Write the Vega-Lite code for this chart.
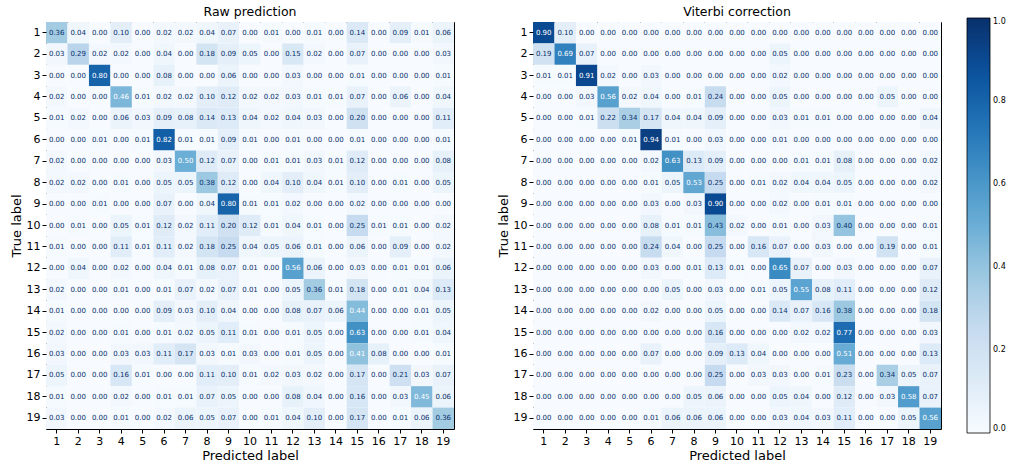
{
"$schema":"https://vega.github.io/schema/vega-lite/v6.json",
"padding":{"left":9,"top":5,"right":0,"bottom":0},
"config":{
"font":"DejaVu Sans",
"view":{"stroke":"#000","strokeWidth":1},
"axis":{"domain":false,"grid":false,"tickColor":"#000","tickSize":4,"labelColor":"#000","labelFontSize":11,"labelFont":"DejaVu Sans","titleFont":"DejaVu Sans","titleFontSize":13,"titleFontWeight":"normal","titleColor":"#000","labelPadding":2,"titlePadding":3},
"title":{"font":"DejaVu Sans","fontSize":12.5,"fontWeight":"normal","color":"#000","offset":4},
"legend":{"labelFont":"DejaVu Sans"}
},
"datasets":{
"raw":[
{"t":1,"p":1,"v":0.36},{"t":1,"p":2,"v":0.04},{"t":1,"p":3,"v":0},{"t":1,"p":4,"v":0.10},{"t":1,"p":5,"v":0},{"t":1,"p":6,"v":0.02},{"t":1,"p":7,"v":0.02},{"t":1,"p":8,"v":0.04},{"t":1,"p":9,"v":0.07},{"t":1,"p":10,"v":0},{"t":1,"p":11,"v":0.01},{"t":1,"p":12,"v":0},{"t":1,"p":13,"v":0.01},{"t":1,"p":14,"v":0},{"t":1,"p":15,"v":0.14},{"t":1,"p":16,"v":0},{"t":1,"p":17,"v":0.09},{"t":1,"p":18,"v":0.01},{"t":1,"p":19,"v":0.06},
{"t":2,"p":1,"v":0.03},{"t":2,"p":2,"v":0.29},{"t":2,"p":3,"v":0.02},{"t":2,"p":4,"v":0.02},{"t":2,"p":5,"v":0},{"t":2,"p":6,"v":0.04},{"t":2,"p":7,"v":0},{"t":2,"p":8,"v":0.18},{"t":2,"p":9,"v":0.09},{"t":2,"p":10,"v":0.05},{"t":2,"p":11,"v":0},{"t":2,"p":12,"v":0.15},{"t":2,"p":13,"v":0.02},{"t":2,"p":14,"v":0},{"t":2,"p":15,"v":0.07},{"t":2,"p":16,"v":0},{"t":2,"p":17,"v":0},{"t":2,"p":18,"v":0},{"t":2,"p":19,"v":0.03},
{"t":3,"p":1,"v":0},{"t":3,"p":2,"v":0},{"t":3,"p":3,"v":0.80},{"t":3,"p":4,"v":0},{"t":3,"p":5,"v":0},{"t":3,"p":6,"v":0.08},{"t":3,"p":7,"v":0},{"t":3,"p":8,"v":0},{"t":3,"p":9,"v":0.06},{"t":3,"p":10,"v":0},{"t":3,"p":11,"v":0},{"t":3,"p":12,"v":0.03},{"t":3,"p":13,"v":0},{"t":3,"p":14,"v":0},{"t":3,"p":15,"v":0.01},{"t":3,"p":16,"v":0},{"t":3,"p":17,"v":0},{"t":3,"p":18,"v":0},{"t":3,"p":19,"v":0.01},
{"t":4,"p":1,"v":0.02},{"t":4,"p":2,"v":0},{"t":4,"p":3,"v":0},{"t":4,"p":4,"v":0.46},{"t":4,"p":5,"v":0.01},{"t":4,"p":6,"v":0.02},{"t":4,"p":7,"v":0.02},{"t":4,"p":8,"v":0.10},{"t":4,"p":9,"v":0.12},{"t":4,"p":10,"v":0.02},{"t":4,"p":11,"v":0.02},{"t":4,"p":12,"v":0.03},{"t":4,"p":13,"v":0.01},{"t":4,"p":14,"v":0.01},{"t":4,"p":15,"v":0.07},{"t":4,"p":16,"v":0},{"t":4,"p":17,"v":0.06},{"t":4,"p":18,"v":0},{"t":4,"p":19,"v":0.04},
{"t":5,"p":1,"v":0.01},{"t":5,"p":2,"v":0.02},{"t":5,"p":3,"v":0},{"t":5,"p":4,"v":0.06},{"t":5,"p":5,"v":0.03},{"t":5,"p":6,"v":0.09},{"t":5,"p":7,"v":0.08},{"t":5,"p":8,"v":0.14},{"t":5,"p":9,"v":0.13},{"t":5,"p":10,"v":0.04},{"t":5,"p":11,"v":0.02},{"t":5,"p":12,"v":0.04},{"t":5,"p":13,"v":0.03},{"t":5,"p":14,"v":0},{"t":5,"p":15,"v":0.20},{"t":5,"p":16,"v":0},{"t":5,"p":17,"v":0},{"t":5,"p":18,"v":0},{"t":5,"p":19,"v":0.11},
{"t":6,"p":1,"v":0},{"t":6,"p":2,"v":0},{"t":6,"p":3,"v":0.01},{"t":6,"p":4,"v":0},{"t":6,"p":5,"v":0.01},{"t":6,"p":6,"v":0.82},{"t":6,"p":7,"v":0.01},{"t":6,"p":8,"v":0.01},{"t":6,"p":9,"v":0.09},{"t":6,"p":10,"v":0.01},{"t":6,"p":11,"v":0},{"t":6,"p":12,"v":0.01},{"t":6,"p":13,"v":0},{"t":6,"p":14,"v":0},{"t":6,"p":15,"v":0.01},{"t":6,"p":16,"v":0},{"t":6,"p":17,"v":0},{"t":6,"p":18,"v":0},{"t":6,"p":19,"v":0.01},
{"t":7,"p":1,"v":0.02},{"t":7,"p":2,"v":0},{"t":7,"p":3,"v":0},{"t":7,"p":4,"v":0},{"t":7,"p":5,"v":0},{"t":7,"p":6,"v":0.03},{"t":7,"p":7,"v":0.50},{"t":7,"p":8,"v":0.12},{"t":7,"p":9,"v":0.07},{"t":7,"p":10,"v":0},{"t":7,"p":11,"v":0.01},{"t":7,"p":12,"v":0.01},{"t":7,"p":13,"v":0.03},{"t":7,"p":14,"v":0.01},{"t":7,"p":15,"v":0.12},{"t":7,"p":16,"v":0},{"t":7,"p":17,"v":0},{"t":7,"p":18,"v":0},{"t":7,"p":19,"v":0.08},
{"t":8,"p":1,"v":0.02},{"t":8,"p":2,"v":0.02},{"t":8,"p":3,"v":0},{"t":8,"p":4,"v":0.01},{"t":8,"p":5,"v":0},{"t":8,"p":6,"v":0.05},{"t":8,"p":7,"v":0.05},{"t":8,"p":8,"v":0.38},{"t":8,"p":9,"v":0.12},{"t":8,"p":10,"v":0},{"t":8,"p":11,"v":0.04},{"t":8,"p":12,"v":0.10},{"t":8,"p":13,"v":0.04},{"t":8,"p":14,"v":0.01},{"t":8,"p":15,"v":0.10},{"t":8,"p":16,"v":0},{"t":8,"p":17,"v":0.01},{"t":8,"p":18,"v":0},{"t":8,"p":19,"v":0.05},
{"t":9,"p":1,"v":0},{"t":9,"p":2,"v":0},{"t":9,"p":3,"v":0.01},{"t":9,"p":4,"v":0},{"t":9,"p":5,"v":0},{"t":9,"p":6,"v":0.07},{"t":9,"p":7,"v":0},{"t":9,"p":8,"v":0.04},{"t":9,"p":9,"v":0.80},{"t":9,"p":10,"v":0.01},{"t":9,"p":11,"v":0.01},{"t":9,"p":12,"v":0.02},{"t":9,"p":13,"v":0},{"t":9,"p":14,"v":0},{"t":9,"p":15,"v":0.02},{"t":9,"p":16,"v":0},{"t":9,"p":17,"v":0},{"t":9,"p":18,"v":0},{"t":9,"p":19,"v":0},
{"t":10,"p":1,"v":0},{"t":10,"p":2,"v":0.01},{"t":10,"p":3,"v":0},{"t":10,"p":4,"v":0.05},{"t":10,"p":5,"v":0.01},{"t":10,"p":6,"v":0.12},{"t":10,"p":7,"v":0.02},{"t":10,"p":8,"v":0.11},{"t":10,"p":9,"v":0.20},{"t":10,"p":10,"v":0.12},{"t":10,"p":11,"v":0.01},{"t":10,"p":12,"v":0.04},{"t":10,"p":13,"v":0.01},{"t":10,"p":14,"v":0},{"t":10,"p":15,"v":0.25},{"t":10,"p":16,"v":0.01},{"t":10,"p":17,"v":0.01},{"t":10,"p":18,"v":0},{"t":10,"p":19,"v":0.02},
{"t":11,"p":1,"v":0.01},{"t":11,"p":2,"v":0},{"t":11,"p":3,"v":0},{"t":11,"p":4,"v":0.11},{"t":11,"p":5,"v":0.01},{"t":11,"p":6,"v":0.11},{"t":11,"p":7,"v":0.02},{"t":11,"p":8,"v":0.18},{"t":11,"p":9,"v":0.25},{"t":11,"p":10,"v":0.04},{"t":11,"p":11,"v":0.05},{"t":11,"p":12,"v":0.06},{"t":11,"p":13,"v":0.01},{"t":11,"p":14,"v":0},{"t":11,"p":15,"v":0.06},{"t":11,"p":16,"v":0},{"t":11,"p":17,"v":0.09},{"t":11,"p":18,"v":0},{"t":11,"p":19,"v":0.02},
{"t":12,"p":1,"v":0},{"t":12,"p":2,"v":0.04},{"t":12,"p":3,"v":0},{"t":12,"p":4,"v":0.02},{"t":12,"p":5,"v":0},{"t":12,"p":6,"v":0.04},{"t":12,"p":7,"v":0.01},{"t":12,"p":8,"v":0.08},{"t":12,"p":9,"v":0.07},{"t":12,"p":10,"v":0.01},{"t":12,"p":11,"v":0},{"t":12,"p":12,"v":0.56},{"t":12,"p":13,"v":0.06},{"t":12,"p":14,"v":0},{"t":12,"p":15,"v":0.03},{"t":12,"p":16,"v":0},{"t":12,"p":17,"v":0.01},{"t":12,"p":18,"v":0.01},{"t":12,"p":19,"v":0.06},
{"t":13,"p":1,"v":0.02},{"t":13,"p":2,"v":0},{"t":13,"p":3,"v":0},{"t":13,"p":4,"v":0.01},{"t":13,"p":5,"v":0},{"t":13,"p":6,"v":0.01},{"t":13,"p":7,"v":0.07},{"t":13,"p":8,"v":0.02},{"t":13,"p":9,"v":0.07},{"t":13,"p":10,"v":0.01},{"t":13,"p":11,"v":0},{"t":13,"p":12,"v":0.05},{"t":13,"p":13,"v":0.36},{"t":13,"p":14,"v":0.01},{"t":13,"p":15,"v":0.18},{"t":13,"p":16,"v":0},{"t":13,"p":17,"v":0.01},{"t":13,"p":18,"v":0.04},{"t":13,"p":19,"v":0.13},
{"t":14,"p":1,"v":0.01},{"t":14,"p":2,"v":0},{"t":14,"p":3,"v":0},{"t":14,"p":4,"v":0},{"t":14,"p":5,"v":0},{"t":14,"p":6,"v":0.09},{"t":14,"p":7,"v":0.03},{"t":14,"p":8,"v":0.10},{"t":14,"p":9,"v":0.04},{"t":14,"p":10,"v":0},{"t":14,"p":11,"v":0},{"t":14,"p":12,"v":0.08},{"t":14,"p":13,"v":0.07},{"t":14,"p":14,"v":0.06},{"t":14,"p":15,"v":0.44},{"t":14,"p":16,"v":0},{"t":14,"p":17,"v":0},{"t":14,"p":18,"v":0.01},{"t":14,"p":19,"v":0.05},
{"t":15,"p":1,"v":0.02},{"t":15,"p":2,"v":0},{"t":15,"p":3,"v":0},{"t":15,"p":4,"v":0.01},{"t":15,"p":5,"v":0},{"t":15,"p":6,"v":0.01},{"t":15,"p":7,"v":0.02},{"t":15,"p":8,"v":0.05},{"t":15,"p":9,"v":0.11},{"t":15,"p":10,"v":0.01},{"t":15,"p":11,"v":0},{"t":15,"p":12,"v":0.01},{"t":15,"p":13,"v":0.05},{"t":15,"p":14,"v":0},{"t":15,"p":15,"v":0.63},{"t":15,"p":16,"v":0},{"t":15,"p":17,"v":0},{"t":15,"p":18,"v":0.01},{"t":15,"p":19,"v":0.04},
{"t":16,"p":1,"v":0.03},{"t":16,"p":2,"v":0},{"t":16,"p":3,"v":0},{"t":16,"p":4,"v":0.03},{"t":16,"p":5,"v":0.03},{"t":16,"p":6,"v":0.11},{"t":16,"p":7,"v":0.17},{"t":16,"p":8,"v":0.03},{"t":16,"p":9,"v":0.01},{"t":16,"p":10,"v":0.03},{"t":16,"p":11,"v":0},{"t":16,"p":12,"v":0.01},{"t":16,"p":13,"v":0.05},{"t":16,"p":14,"v":0},{"t":16,"p":15,"v":0.41},{"t":16,"p":16,"v":0.08},{"t":16,"p":17,"v":0},{"t":16,"p":18,"v":0},{"t":16,"p":19,"v":0.01},
{"t":17,"p":1,"v":0.05},{"t":17,"p":2,"v":0},{"t":17,"p":3,"v":0},{"t":17,"p":4,"v":0.16},{"t":17,"p":5,"v":0.01},{"t":17,"p":6,"v":0},{"t":17,"p":7,"v":0},{"t":17,"p":8,"v":0.11},{"t":17,"p":9,"v":0.10},{"t":17,"p":10,"v":0.01},{"t":17,"p":11,"v":0.02},{"t":17,"p":12,"v":0.03},{"t":17,"p":13,"v":0.02},{"t":17,"p":14,"v":0},{"t":17,"p":15,"v":0.17},{"t":17,"p":16,"v":0},{"t":17,"p":17,"v":0.21},{"t":17,"p":18,"v":0.03},{"t":17,"p":19,"v":0.07},
{"t":18,"p":1,"v":0.01},{"t":18,"p":2,"v":0},{"t":18,"p":3,"v":0},{"t":18,"p":4,"v":0.02},{"t":18,"p":5,"v":0},{"t":18,"p":6,"v":0.01},{"t":18,"p":7,"v":0.01},{"t":18,"p":8,"v":0.07},{"t":18,"p":9,"v":0.05},{"t":18,"p":10,"v":0},{"t":18,"p":11,"v":0},{"t":18,"p":12,"v":0.08},{"t":18,"p":13,"v":0.04},{"t":18,"p":14,"v":0},{"t":18,"p":15,"v":0.16},{"t":18,"p":16,"v":0},{"t":18,"p":17,"v":0.03},{"t":18,"p":18,"v":0.45},{"t":18,"p":19,"v":0.06},
{"t":19,"p":1,"v":0.03},{"t":19,"p":2,"v":0},{"t":19,"p":3,"v":0},{"t":19,"p":4,"v":0.01},{"t":19,"p":5,"v":0},{"t":19,"p":6,"v":0.02},{"t":19,"p":7,"v":0.06},{"t":19,"p":8,"v":0.05},{"t":19,"p":9,"v":0.07},{"t":19,"p":10,"v":0},{"t":19,"p":11,"v":0.01},{"t":19,"p":12,"v":0.04},{"t":19,"p":13,"v":0.10},{"t":19,"p":14,"v":0},{"t":19,"p":15,"v":0.17},{"t":19,"p":16,"v":0},{"t":19,"p":17,"v":0.01},{"t":19,"p":18,"v":0.06},{"t":19,"p":19,"v":0.36}
],
"vit":[
{"t":1,"p":1,"v":0.90},{"t":1,"p":2,"v":0.10},{"t":1,"p":3,"v":0},{"t":1,"p":4,"v":0},{"t":1,"p":5,"v":0},{"t":1,"p":6,"v":0},{"t":1,"p":7,"v":0},{"t":1,"p":8,"v":0},{"t":1,"p":9,"v":0},{"t":1,"p":10,"v":0},{"t":1,"p":11,"v":0},{"t":1,"p":12,"v":0},{"t":1,"p":13,"v":0},{"t":1,"p":14,"v":0},{"t":1,"p":15,"v":0},{"t":1,"p":16,"v":0},{"t":1,"p":17,"v":0},{"t":1,"p":18,"v":0},{"t":1,"p":19,"v":0},
{"t":2,"p":1,"v":0.19},{"t":2,"p":2,"v":0.69},{"t":2,"p":3,"v":0.07},{"t":2,"p":4,"v":0},{"t":2,"p":5,"v":0},{"t":2,"p":6,"v":0},{"t":2,"p":7,"v":0},{"t":2,"p":8,"v":0},{"t":2,"p":9,"v":0},{"t":2,"p":10,"v":0},{"t":2,"p":11,"v":0},{"t":2,"p":12,"v":0.05},{"t":2,"p":13,"v":0},{"t":2,"p":14,"v":0},{"t":2,"p":15,"v":0},{"t":2,"p":16,"v":0},{"t":2,"p":17,"v":0},{"t":2,"p":18,"v":0},{"t":2,"p":19,"v":0},
{"t":3,"p":1,"v":0.01},{"t":3,"p":2,"v":0.01},{"t":3,"p":3,"v":0.91},{"t":3,"p":4,"v":0.02},{"t":3,"p":5,"v":0},{"t":3,"p":6,"v":0.03},{"t":3,"p":7,"v":0},{"t":3,"p":8,"v":0},{"t":3,"p":9,"v":0},{"t":3,"p":10,"v":0},{"t":3,"p":11,"v":0},{"t":3,"p":12,"v":0.02},{"t":3,"p":13,"v":0},{"t":3,"p":14,"v":0},{"t":3,"p":15,"v":0},{"t":3,"p":16,"v":0},{"t":3,"p":17,"v":0},{"t":3,"p":18,"v":0},{"t":3,"p":19,"v":0},
{"t":4,"p":1,"v":0},{"t":4,"p":2,"v":0},{"t":4,"p":3,"v":0.03},{"t":4,"p":4,"v":0.56},{"t":4,"p":5,"v":0.02},{"t":4,"p":6,"v":0.04},{"t":4,"p":7,"v":0},{"t":4,"p":8,"v":0.01},{"t":4,"p":9,"v":0.24},{"t":4,"p":10,"v":0},{"t":4,"p":11,"v":0},{"t":4,"p":12,"v":0.05},{"t":4,"p":13,"v":0},{"t":4,"p":14,"v":0},{"t":4,"p":15,"v":0},{"t":4,"p":16,"v":0},{"t":4,"p":17,"v":0.05},{"t":4,"p":18,"v":0},{"t":4,"p":19,"v":0},
{"t":5,"p":1,"v":0},{"t":5,"p":2,"v":0},{"t":5,"p":3,"v":0.01},{"t":5,"p":4,"v":0.22},{"t":5,"p":5,"v":0.34},{"t":5,"p":6,"v":0.17},{"t":5,"p":7,"v":0.04},{"t":5,"p":8,"v":0.04},{"t":5,"p":9,"v":0.09},{"t":5,"p":10,"v":0},{"t":5,"p":11,"v":0},{"t":5,"p":12,"v":0.03},{"t":5,"p":13,"v":0.01},{"t":5,"p":14,"v":0.01},{"t":5,"p":15,"v":0},{"t":5,"p":16,"v":0},{"t":5,"p":17,"v":0},{"t":5,"p":18,"v":0},{"t":5,"p":19,"v":0.04},
{"t":6,"p":1,"v":0},{"t":6,"p":2,"v":0},{"t":6,"p":3,"v":0},{"t":6,"p":4,"v":0},{"t":6,"p":5,"v":0.01},{"t":6,"p":6,"v":0.94},{"t":6,"p":7,"v":0.01},{"t":6,"p":8,"v":0},{"t":6,"p":9,"v":0.03},{"t":6,"p":10,"v":0},{"t":6,"p":11,"v":0},{"t":6,"p":12,"v":0.01},{"t":6,"p":13,"v":0},{"t":6,"p":14,"v":0},{"t":6,"p":15,"v":0},{"t":6,"p":16,"v":0},{"t":6,"p":17,"v":0},{"t":6,"p":18,"v":0},{"t":6,"p":19,"v":0},
{"t":7,"p":1,"v":0},{"t":7,"p":2,"v":0},{"t":7,"p":3,"v":0},{"t":7,"p":4,"v":0},{"t":7,"p":5,"v":0},{"t":7,"p":6,"v":0.02},{"t":7,"p":7,"v":0.63},{"t":7,"p":8,"v":0.13},{"t":7,"p":9,"v":0.09},{"t":7,"p":10,"v":0},{"t":7,"p":11,"v":0},{"t":7,"p":12,"v":0},{"t":7,"p":13,"v":0.01},{"t":7,"p":14,"v":0.01},{"t":7,"p":15,"v":0.08},{"t":7,"p":16,"v":0},{"t":7,"p":17,"v":0},{"t":7,"p":18,"v":0},{"t":7,"p":19,"v":0.02},
{"t":8,"p":1,"v":0},{"t":8,"p":2,"v":0},{"t":8,"p":3,"v":0},{"t":8,"p":4,"v":0},{"t":8,"p":5,"v":0},{"t":8,"p":6,"v":0.01},{"t":8,"p":7,"v":0.05},{"t":8,"p":8,"v":0.53},{"t":8,"p":9,"v":0.25},{"t":8,"p":10,"v":0},{"t":8,"p":11,"v":0.01},{"t":8,"p":12,"v":0.02},{"t":8,"p":13,"v":0.04},{"t":8,"p":14,"v":0.04},{"t":8,"p":15,"v":0.05},{"t":8,"p":16,"v":0},{"t":8,"p":17,"v":0},{"t":8,"p":18,"v":0},{"t":8,"p":19,"v":0.02},
{"t":9,"p":1,"v":0},{"t":9,"p":2,"v":0},{"t":9,"p":3,"v":0},{"t":9,"p":4,"v":0},{"t":9,"p":5,"v":0},{"t":9,"p":6,"v":0.03},{"t":9,"p":7,"v":0},{"t":9,"p":8,"v":0.03},{"t":9,"p":9,"v":0.90},{"t":9,"p":10,"v":0},{"t":9,"p":11,"v":0},{"t":9,"p":12,"v":0.02},{"t":9,"p":13,"v":0},{"t":9,"p":14,"v":0.01},{"t":9,"p":15,"v":0.01},{"t":9,"p":16,"v":0},{"t":9,"p":17,"v":0},{"t":9,"p":18,"v":0},{"t":9,"p":19,"v":0},
{"t":10,"p":1,"v":0},{"t":10,"p":2,"v":0},{"t":10,"p":3,"v":0},{"t":10,"p":4,"v":0},{"t":10,"p":5,"v":0},{"t":10,"p":6,"v":0.08},{"t":10,"p":7,"v":0.01},{"t":10,"p":8,"v":0.01},{"t":10,"p":9,"v":0.43},{"t":10,"p":10,"v":0.02},{"t":10,"p":11,"v":0},{"t":10,"p":12,"v":0.01},{"t":10,"p":13,"v":0},{"t":10,"p":14,"v":0.03},{"t":10,"p":15,"v":0.40},{"t":10,"p":16,"v":0},{"t":10,"p":17,"v":0},{"t":10,"p":18,"v":0},{"t":10,"p":19,"v":0.01},
{"t":11,"p":1,"v":0},{"t":11,"p":2,"v":0},{"t":11,"p":3,"v":0},{"t":11,"p":4,"v":0},{"t":11,"p":5,"v":0},{"t":11,"p":6,"v":0.24},{"t":11,"p":7,"v":0.04},{"t":11,"p":8,"v":0},{"t":11,"p":9,"v":0.25},{"t":11,"p":10,"v":0},{"t":11,"p":11,"v":0.16},{"t":11,"p":12,"v":0.07},{"t":11,"p":13,"v":0},{"t":11,"p":14,"v":0.03},{"t":11,"p":15,"v":0},{"t":11,"p":16,"v":0},{"t":11,"p":17,"v":0.19},{"t":11,"p":18,"v":0},{"t":11,"p":19,"v":0.01},
{"t":12,"p":1,"v":0},{"t":12,"p":2,"v":0},{"t":12,"p":3,"v":0},{"t":12,"p":4,"v":0},{"t":12,"p":5,"v":0},{"t":12,"p":6,"v":0.03},{"t":12,"p":7,"v":0},{"t":12,"p":8,"v":0.01},{"t":12,"p":9,"v":0.13},{"t":12,"p":10,"v":0.01},{"t":12,"p":11,"v":0},{"t":12,"p":12,"v":0.65},{"t":12,"p":13,"v":0.07},{"t":12,"p":14,"v":0},{"t":12,"p":15,"v":0.03},{"t":12,"p":16,"v":0},{"t":12,"p":17,"v":0},{"t":12,"p":18,"v":0},{"t":12,"p":19,"v":0.07},
{"t":13,"p":1,"v":0},{"t":13,"p":2,"v":0},{"t":13,"p":3,"v":0},{"t":13,"p":4,"v":0},{"t":13,"p":5,"v":0},{"t":13,"p":6,"v":0},{"t":13,"p":7,"v":0.05},{"t":13,"p":8,"v":0},{"t":13,"p":9,"v":0.03},{"t":13,"p":10,"v":0},{"t":13,"p":11,"v":0.01},{"t":13,"p":12,"v":0.05},{"t":13,"p":13,"v":0.55},{"t":13,"p":14,"v":0.08},{"t":13,"p":15,"v":0.11},{"t":13,"p":16,"v":0},{"t":13,"p":17,"v":0},{"t":13,"p":18,"v":0},{"t":13,"p":19,"v":0.12},
{"t":14,"p":1,"v":0},{"t":14,"p":2,"v":0},{"t":14,"p":3,"v":0},{"t":14,"p":4,"v":0},{"t":14,"p":5,"v":0},{"t":14,"p":6,"v":0.02},{"t":14,"p":7,"v":0},{"t":14,"p":8,"v":0},{"t":14,"p":9,"v":0.05},{"t":14,"p":10,"v":0},{"t":14,"p":11,"v":0},{"t":14,"p":12,"v":0.14},{"t":14,"p":13,"v":0.07},{"t":14,"p":14,"v":0.16},{"t":14,"p":15,"v":0.38},{"t":14,"p":16,"v":0},{"t":14,"p":17,"v":0},{"t":14,"p":18,"v":0},{"t":14,"p":19,"v":0.18},
{"t":15,"p":1,"v":0},{"t":15,"p":2,"v":0},{"t":15,"p":3,"v":0},{"t":15,"p":4,"v":0},{"t":15,"p":5,"v":0},{"t":15,"p":6,"v":0},{"t":15,"p":7,"v":0},{"t":15,"p":8,"v":0},{"t":15,"p":9,"v":0.16},{"t":15,"p":10,"v":0},{"t":15,"p":11,"v":0},{"t":15,"p":12,"v":0},{"t":15,"p":13,"v":0.02},{"t":15,"p":14,"v":0.02},{"t":15,"p":15,"v":0.77},{"t":15,"p":16,"v":0},{"t":15,"p":17,"v":0},{"t":15,"p":18,"v":0},{"t":15,"p":19,"v":0.03},
{"t":16,"p":1,"v":0},{"t":16,"p":2,"v":0},{"t":16,"p":3,"v":0},{"t":16,"p":4,"v":0},{"t":16,"p":5,"v":0},{"t":16,"p":6,"v":0.07},{"t":16,"p":7,"v":0},{"t":16,"p":8,"v":0},{"t":16,"p":9,"v":0.09},{"t":16,"p":10,"v":0.13},{"t":16,"p":11,"v":0.04},{"t":16,"p":12,"v":0},{"t":16,"p":13,"v":0},{"t":16,"p":14,"v":0},{"t":16,"p":15,"v":0.51},{"t":16,"p":16,"v":0},{"t":16,"p":17,"v":0},{"t":16,"p":18,"v":0},{"t":16,"p":19,"v":0.13},
{"t":17,"p":1,"v":0},{"t":17,"p":2,"v":0},{"t":17,"p":3,"v":0},{"t":17,"p":4,"v":0},{"t":17,"p":5,"v":0},{"t":17,"p":6,"v":0},{"t":17,"p":7,"v":0},{"t":17,"p":8,"v":0},{"t":17,"p":9,"v":0.25},{"t":17,"p":10,"v":0},{"t":17,"p":11,"v":0.03},{"t":17,"p":12,"v":0.03},{"t":17,"p":13,"v":0},{"t":17,"p":14,"v":0.01},{"t":17,"p":15,"v":0.23},{"t":17,"p":16,"v":0},{"t":17,"p":17,"v":0.34},{"t":17,"p":18,"v":0.05},{"t":17,"p":19,"v":0.07},
{"t":18,"p":1,"v":0},{"t":18,"p":2,"v":0},{"t":18,"p":3,"v":0},{"t":18,"p":4,"v":0},{"t":18,"p":5,"v":0},{"t":18,"p":6,"v":0},{"t":18,"p":7,"v":0},{"t":18,"p":8,"v":0.05},{"t":18,"p":9,"v":0.06},{"t":18,"p":10,"v":0},{"t":18,"p":11,"v":0},{"t":18,"p":12,"v":0.05},{"t":18,"p":13,"v":0.04},{"t":18,"p":14,"v":0},{"t":18,"p":15,"v":0.12},{"t":18,"p":16,"v":0},{"t":18,"p":17,"v":0.03},{"t":18,"p":18,"v":0.58},{"t":18,"p":19,"v":0.07},
{"t":19,"p":1,"v":0},{"t":19,"p":2,"v":0},{"t":19,"p":3,"v":0},{"t":19,"p":4,"v":0},{"t":19,"p":5,"v":0},{"t":19,"p":6,"v":0.01},{"t":19,"p":7,"v":0.06},{"t":19,"p":8,"v":0.06},{"t":19,"p":9,"v":0.06},{"t":19,"p":10,"v":0},{"t":19,"p":11,"v":0},{"t":19,"p":12,"v":0.03},{"t":19,"p":13,"v":0.04},{"t":19,"p":14,"v":0.03},{"t":19,"p":15,"v":0.11},{"t":19,"p":16,"v":0},{"t":19,"p":17,"v":0},{"t":19,"p":18,"v":0.05},{"t":19,"p":19,"v":0.56}
]
},
"spacing":41,
"resolve":{"scale":{"color":"shared"}},
"hconcat":[
{
"data":{"name":"raw"},
"width":408,"height":407,
"title":"Raw prediction",
"encoding":{
"x":{"field":"p","type":"ordinal","title":"Predicted label","scale":{"paddingInner":0,"paddingOuter":0},"axis":{"labelAngle":0}},
"y":{"field":"t","type":"ordinal","title":"True label","scale":{"paddingInner":0,"paddingOuter":0}}
},
"layer":[
{"mark":{"type":"rect"},"encoding":{"color":{"field":"v","type":"quantitative","scale":{"domain":[0,0.125,0.25,0.375,0.5,0.625,0.75,0.875,1],"range":["#f7fbff","#deebf7","#c6dbef","#9ecae1","#6baed6","#4292c6","#2171b5","#08519c","#08306b"]},"legend":{"orient":"none","legendX":921,"legendY":-4,"title":null,"direction":"vertical","gradientLength":415,"gradientThickness":23,"values":[0,0.2,0.4,0.6,0.8,1],"format":".1f","labelFontSize":8,"labelColor":"#000","labelOffset":3,"gradientStrokeColor":"#000","gradientStrokeWidth":0.8}}}},
{"mark":{"type":"text","fontSize":7,"font":"DejaVu Sans"},"encoding":{"text":{"field":"v","type":"quantitative","format":".2f"},"color":{"condition":{"test":"datum.v >= 0.41","value":"#ffffff"},"value":"#08306b"}}}
]
},
{
"data":{"name":"vit"},
"width":408,"height":407,
"title":"Viterbi correction",
"encoding":{
"x":{"field":"p","type":"ordinal","title":"Predicted label","scale":{"paddingInner":0,"paddingOuter":0},"axis":{"labelAngle":0}},
"y":{"field":"t","type":"ordinal","title":"True label","scale":{"paddingInner":0,"paddingOuter":0}}
},
"layer":[
{"mark":{"type":"rect"},"encoding":{"color":{"field":"v","type":"quantitative","scale":{"domain":[0,0.125,0.25,0.375,0.5,0.625,0.75,0.875,1],"range":["#f7fbff","#deebf7","#c6dbef","#9ecae1","#6baed6","#4292c6","#2171b5","#08519c","#08306b"]},"legend":{"orient":"none","legendX":921,"legendY":-4,"title":null,"direction":"vertical","gradientLength":415,"gradientThickness":23,"values":[0,0.2,0.4,0.6,0.8,1],"format":".1f","labelFontSize":8,"labelColor":"#000","labelOffset":3,"gradientStrokeColor":"#000","gradientStrokeWidth":0.8}}}},
{"mark":{"type":"text","fontSize":7,"font":"DejaVu Sans"},"encoding":{"text":{"field":"v","type":"quantitative","format":".2f"},"color":{"condition":{"test":"datum.v >= 0.47","value":"#ffffff"},"value":"#08306b"}}}
]
}
]
}
